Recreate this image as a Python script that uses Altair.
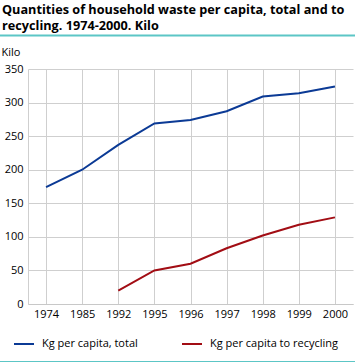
import altair as alt
import pandas as pd

years = ["1974", "1985", "1992", "1995", "1996", "1997", "1998", "1999", "2000"]
total = [174, 200, 237, 269, 274, 287, 309, 314, 324]
rec_years = ["1992", "1995", "1996", "1997", "1998", "1999", "2000"]
recycling = [20, 50, 60, 83, 102, 118, 129]
s_total = "Kg per capita, total"
s_rec = "Kg per capita to recycling"

rows = [{"year": y, "value": v, "series": s_total} for y, v in zip(years, total)]
rows += [{"year": y, "value": v, "series": s_rec} for y, v in zip(rec_years, recycling)]
df = pd.DataFrame(rows)

FONT = "Open Sans"
TEAL = "#5cc6c6"
PL, PT, W, H = 28, 69, 325, 235

lines = alt.Chart(df).mark_line(strokeWidth=2).encode(
    x=alt.X("year:O", sort=years, title=None,
            axis=alt.Axis(labelAngle=0, ticks=False, grid=True, domain=True,
                          domainColor="#c8c8c8", gridColor="#cfcfcf",
                          labelPadding=4, labelFontSize=11, labelColor="#000")),
    y=alt.Y("value:Q", scale=alt.Scale(domain=[0, 350]),
            title="Kilo",
            axis=alt.Axis(values=list(range(0, 351, 50)), ticks=False, grid=True,
                          domain=True, domainColor="#cfcfcf", gridColor="#cfcfcf",
                          labelPadding=5, labelFontSize=11, labelColor="#000",
                          titleAngle=0, titleX=-27, titleY=-17, titleAlign="left",
                          titleBaseline="middle", titleFontWeight="normal",
                          titleFontSize=11, titleColor="#000")),
    color=alt.Color("series:N",
                    scale=alt.Scale(domain=[s_total, s_rec], range=["#0b3a95", "#a20d14"]),
                    legend=alt.Legend(title=None, orient="none", legendX=-15, legendY=264,
                                      direction="horizontal", symbolType="stroke",
                                      symbolSize=400, symbolStrokeWidth=2,
                                      labelFontSize=11, labelFont=FONT, labelColor="#000",
                                      labelOffset=7, columnPadding=40)),
)

one = pd.DataFrame({"a": [0]})
top_rule = alt.Chart(one).mark_rule(color=TEAL, strokeWidth=2).encode(
    x=alt.value(-PL), x2=alt.value(355 - PL), y=alt.value(35.5 - PT))
bot_rule = alt.Chart(one).mark_rule(color=TEAL, strokeWidth=1).encode(
    x=alt.value(-PL), x2=alt.value(355 - PL), y=alt.value(361.5 - PT))

chart = alt.layer(lines, top_rule, bot_rule).properties(
    width=W, height=H,
    autosize=alt.AutoSizeParams(type="none"),
    padding={"left": PL, "top": PT, "right": 355 - PL - W, "bottom": 363 - PT - H},
    title=alt.TitleParams(
        text=["Quantities of household waste per capita, total and to",
              "recycling. 1974-2000. Kilo"],
        anchor="start", frame="group", dx=-26, offset=2,
        font=FONT, fontSize=12.7, fontWeight="bold", lineHeight=16, color="#000"),
).configure(font=FONT).configure_view(stroke=None)

chart.save("out.html", embed_options={"renderer": "svg", "actions": False})
